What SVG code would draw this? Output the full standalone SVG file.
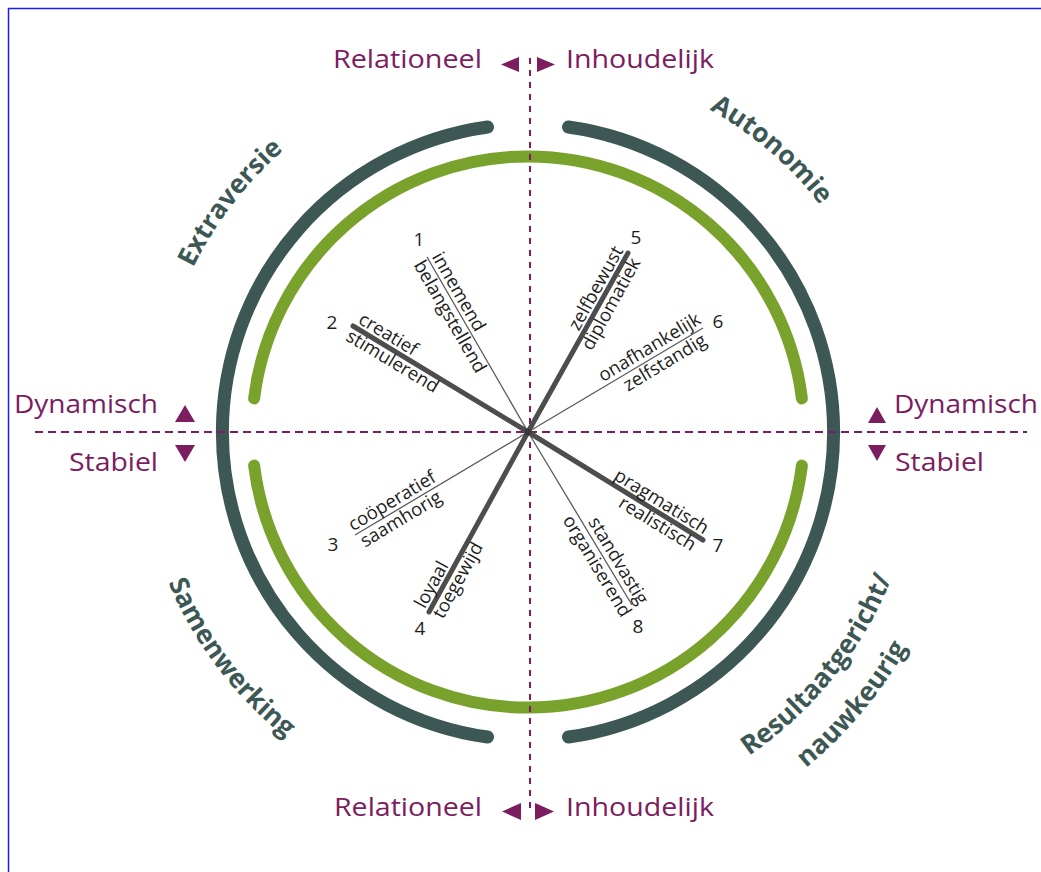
<svg xmlns="http://www.w3.org/2000/svg" width="1041" height="872" viewBox="0 0 1041 872">
<style>
.axis{font-family:"Open Sans","DejaVu Sans",sans-serif;font-size:26px;fill:#7b1d5f}
.quad{font-family:"Open Sans","DejaVu Sans",sans-serif;font-size:26.5px;font-weight:700;fill:#3d5854}
.lbl{font-family:"Open Sans","DejaVu Sans",sans-serif;font-size:18.5px;fill:#1e1e1e}
.num{font-family:"Open Sans","DejaVu Sans",sans-serif;font-size:19px;fill:#1e1e1e;text-anchor:middle}
.tri{fill:#7b1d5f}
.dash{stroke:#7b1d5f;stroke-width:2;fill:none}
.outer{fill:none;stroke:#3d5854;stroke-width:13;stroke-linecap:round}
.inner{fill:none;stroke:#78a22c;stroke-width:12;stroke-linecap:round}
.thick{stroke:#4d4d4d;stroke-width:5;stroke-linecap:round}
.thin{stroke:#5a5a5a;stroke-width:1.3}
.end{text-anchor:end}
</style>
<defs>
<path id="pExtra" d="M158.3,382.7 A373,373 0 0 1 385.8,87.2"/>
<path id="pAuto" d="M597.3,68.5 A370,370 0 0 1 877.4,310.3"/>
<path id="pSamen" d="M141.1,480.9 A390,390 0 0 0 376.9,791.5"/>
<path id="pRes" d="M669.7,797.5 A392,392 0 0 0 915.4,492.0"/>
<path id="pNauw" d="M677.1,841.7 A436,436 0 0 0 957.4,507.7"/>
</defs>
<rect x="8.5" y="8.5" width="1040" height="875" fill="#ffffff" stroke="#1a1aff" stroke-width="1.5"/>

<g id="rings">
<path class="outer" d="M487.5,127 A308,308 0 0 0 487.5,737"/>
<path class="outer" d="M568.5,127 A308,308 0 0 1 568.5,737"/>
<path class="inner" d="M254.1,398.4 A276,276 0 0 1 801.9,398.4"/>
<path class="inner" d="M254.1,465.6 A276,276 0 0 0 801.9,465.6"/>
</g>

<g id="axes">
<line class="dash" x1="530" y1="58" x2="530" y2="808" stroke-dasharray="6 6"/>
<line class="dash" x1="35" y1="432" x2="1027" y2="432" stroke-dasharray="8 5"/>
</g>

<g id="axis-labels">
<text class="axis" x="333" y="68" textLength="149" lengthAdjust="spacingAndGlyphs">Relationeel</text>
<text class="axis" x="566" y="68" textLength="148" lengthAdjust="spacingAndGlyphs">Inhoudelijk</text>
<polygon class="tri" points="501,64.5 519,57 519,72"/>
<polygon class="tri" points="537,57 537,72 555,64.5"/>
<text class="axis" x="334" y="816" textLength="148" lengthAdjust="spacingAndGlyphs">Relationeel</text>
<text class="axis" x="566" y="816" textLength="148" lengthAdjust="spacingAndGlyphs">Inhoudelijk</text>
<polygon class="tri" points="502,811.5 521,803 521,820"/>
<polygon class="tri" points="535,803 535,820 554,811.5"/>
<text class="axis" x="14" y="413" textLength="144" lengthAdjust="spacingAndGlyphs">Dynamisch</text>
<text class="axis" x="69" y="471" textLength="89" lengthAdjust="spacingAndGlyphs">Stabiel</text>
<polygon class="tri" points="175,422 195,422 185,405"/>
<polygon class="tri" points="175,445 195,445 185,462"/>
<text class="axis" x="894" y="413" textLength="144" lengthAdjust="spacingAndGlyphs">Dynamisch</text>
<text class="axis" x="895" y="471" textLength="89" lengthAdjust="spacingAndGlyphs">Stabiel</text>
<polygon class="tri" points="868,423 886,423 877,407"/>
<polygon class="tri" points="868,445 886,445 877,461"/>
</g>

<g id="quadrants">
<text class="quad"><textPath href="#pExtra" startOffset="50%" text-anchor="middle">Extraversie</textPath></text>
<text class="quad"><textPath href="#pAuto" startOffset="50%" text-anchor="middle">Autonomie</textPath></text>
<text class="quad"><textPath href="#pSamen" startOffset="50%" text-anchor="middle">Samenwerking</textPath></text>
<text class="quad"><textPath href="#pRes" startOffset="50%" text-anchor="middle">Resultaatgericht/</textPath></text>
<text class="quad"><textPath href="#pNauw" startOffset="50%" text-anchor="middle">nauwkeurig</textPath></text>
</g>

<g id="spokes">
<line class="thin" x1="528" y1="432" x2="427" y2="257"/>
<line class="thick" x1="528" y1="432" x2="353" y2="326"/>
<line class="thin" x1="528" y1="432" x2="355" y2="535"/>
<line class="thick" x1="528" y1="432" x2="429" y2="612"/>
<line class="thick" x1="528" y1="432" x2="628" y2="253"/>
<line class="thin" x1="528" y1="432" x2="703" y2="328"/>
<line class="thick" x1="528" y1="432" x2="703" y2="540"/>
<line class="thin" x1="528" y1="432" x2="632" y2="605"/>
<circle cx="528" cy="432" r="3.5" fill="#3a3a3a"/>
</g>

<g id="spoke1" transform="translate(427,257) rotate(60)">
<text class="lbl" x="2" y="-4">innemend</text>
<text class="lbl" x="0" y="16">belangstellend</text>
</g>
<g id="spoke2" transform="translate(353,326) rotate(31)">
<text class="lbl" x="2" y="-5">creatief</text>
<text class="lbl" x="0" y="16">stimulerend</text>
</g>
<g id="spoke3" transform="translate(355,535) rotate(-31)">
<text class="lbl" x="0" y="-4">coöperatief</text>
<text class="lbl" x="2" y="16">saamhorig</text>
</g>
<g id="spoke4" transform="translate(429,612) rotate(-61)">
<text class="lbl" x="0" y="-5">loyaal</text>
<text class="lbl" x="0" y="16">toegewijd</text>
</g>
<g id="spoke5" transform="translate(628,253) rotate(-61)">
<text class="lbl end" x="0" y="-5">zelfbewust</text>
<text class="lbl end" x="-2" y="16">diplomatiek</text>
</g>
<g id="spoke6" transform="translate(703,328) rotate(-31)">
<text class="lbl end" x="2" y="-5">onafhankelijk</text>
<text class="lbl end" x="-4" y="16">zelfstandig</text>
</g>
<g id="spoke7" transform="translate(703,540) rotate(31.5)">
<text class="lbl end" x="-2" y="-5">pragmatisch</text>
<text class="lbl end" x="-4" y="16">realistisch</text>
</g>
<g id="spoke8" transform="translate(632,605) rotate(59)">
<text class="lbl end" x="4" y="-5">standvastig</text>
<text class="lbl end" x="6" y="16">organiserend</text>
</g>

<g id="numbers">
<text class="num" x="419" y="246">1</text>
<text class="num" x="332" y="329">2</text>
<text class="num" x="333" y="551">3</text>
<text class="num" x="420" y="635">4</text>
<text class="num" x="636" y="244">5</text>
<text class="num" x="718" y="328">6</text>
<text class="num" x="718" y="552">7</text>
<text class="num" x="638" y="633">8</text>
</g>
</svg>
